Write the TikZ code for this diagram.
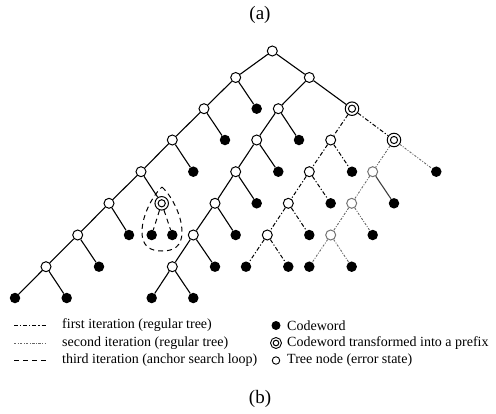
\documentclass[tikz,border=0pt]{standalone}
\usepackage{fontspec}
\setmainfont{Liberation Serif}
\begin{document}
\begin{tikzpicture}[x=1pt,y=-1pt,
  opennode/.style={circle,draw,fill=white,line width=1pt,minimum size=10pt,inner sep=0pt},
  greyopen/.style={opennode,draw=black!55},
  cw/.style={circle,fill=black,minimum size=10.5pt,inner sep=0pt},
  innerring/.style={path picture={\draw[line width=1pt] (path picture bounding box.center) circle (#1);}},
  prefixnode/.style={circle,draw,fill=white,line width=1pt,minimum size=13.5pt,inner sep=0pt,innerring=3.6pt},
  treeline/.style={line width=1.1pt},
  iterone/.style={line width=1pt,dash pattern=on 4pt off 2pt on 1.2pt off 2pt},
  itertwo/.style={line width=0.9pt,black!60,dash pattern=on 2.2pt off 1.5pt on 0.9pt off 1.5pt},
  iterthree/.style={line width=1pt,dash pattern=on 5pt off 4pt},
  legtext/.style={anchor=west,inner sep=0pt,font=\fontsize{14}{16}\selectfont},
  captext/.style={inner sep=0pt,font=\fontsize{19}{22}\selectfont}]
\useasboundingbox (0,0) rectangle (496,413);

% ---- left branch of the root ----
\node[opennode] (r)  at (272.3,51) {};
\node[opennode] (a1) at (235.7,77.5) {};
\node[opennode] (a2) at (204,108.7) {};
\node[opennode] (a3) at (172.3,140) {};
\node[opennode] (a4) at (141,171.7) {};
\node[opennode] (a5) at (109,203.3) {};
\node[opennode] (a6) at (77.7,235) {};
\node[opennode] (a7) at (46,266.7) {};
\node[cw] (a8l) at (15,298) {};
\node[cw] (a8r) at (66.7,298) {};
\node[cw] (a7r) at (99,266.7) {};
\node[cw] (a6r) at (129,235) {};
\node[prefixnode] (a5r) at (161.7,203.3) {};
\node[cw] (t1) at (151.7,235) {};
\node[cw] (t2) at (172.3,235) {};
\node[cw] (a3r) at (193.3,171.7) {};
\node[cw] (a2r) at (225,140) {};
\node[cw] (a1r) at (256.7,108.7) {};

% ---- right branch of the root ----
\node[opennode] (b1) at (309.3,77.5) {};
\node[opennode] (c2) at (278.3,108.7) {};
\node[prefixnode] (d2) at (352,108.7) {};
\node[opennode] (c3) at (256.7,140) {};
\node[cw] (c2r) at (299,140) {};
\node[opennode] (c4) at (235.7,171.7) {};
\node[cw] (c3r) at (278.3,171.7) {};
\node[opennode] (c5) at (215,203.3) {};
\node[cw] (c4r) at (256.7,203.3) {};
\node[opennode] (c6) at (193.3,235) {};
\node[cw] (c5r) at (235.7,235) {};
\node[opennode] (c7) at (172.3,266.7) {};
\node[cw] (c6r) at (215,266.7) {};
\node[cw] (c8l) at (151.7,298) {};
\node[cw] (c8r) at (193.3,298) {};

% ---- first iteration ----
\node[opennode] (e3) at (330.7,140) {};
\node[prefixnode] (d3) at (394,140) {};
\node[opennode] (e4) at (309.3,171.7) {};
\node[cw] (e3r) at (352,171.7) {};
\node[opennode] (e5) at (288.3,203.3) {};
\node[cw] (e4r) at (330.7,203.3) {};
\node[opennode] (e6) at (267.3,235) {};
\node[cw] (e5r) at (309.3,235) {};
\node[cw] (e7l) at (246,266.7) {};
\node[cw] (e7r) at (288.3,266.7) {};

% ---- second iteration ----
\node[greyopen] (f4) at (372.7,171.7) {};
\node[cw] (d3r) at (436.3,171.7) {};
\node[greyopen] (f5) at (351.7,203.3) {};
\node[cw] (f4r) at (394,203.3) {};
\node[greyopen] (f6) at (330.7,235) {};
\node[cw] (f5r) at (372.7,235) {};
\node[cw] (f7l) at (309.3,266.7) {};
\node[cw] (f7r) at (351.7,266.7) {};

% regular tree edges
\draw[treeline] (r) -- (a1) (a1) -- (a2) (a2) -- (a3) (a3) -- (a4) (a4) -- (a5) (a5) -- (a6) (a6) -- (a7)
  (a7) -- (a8l) (a7) -- (a8r) (a6) -- (a7r) (a5) -- (a6r) (a4) -- (a5r) (a3) -- (a3r) (a2) -- (a2r) (a1) -- (a1r)
  (r) -- (b1) (b1) -- (c2) (b1) -- (d2) (c2) -- (c3) (c2) -- (c2r) (c3) -- (c4) (c3) -- (c3r)
  (c4) -- (c5) (c4) -- (c4r) (c5) -- (c6) (c5) -- (c5r) (c6) -- (c7) (c6) -- (c6r) (c7) -- (c8l) (c7) -- (c8r);
\draw[treeline,black!75] (f4) -- (f4r);
% first iteration edges
\draw[iterone] (d2) -- (e3) (d2) -- (d3) (e3) -- (e4) (e3) -- (e3r) (e4) -- (e5) (e4) -- (e4r)
  (e5) -- (e6) (e5) -- (e5r) (e6) -- (e7l) (e6) -- (e7r);
% second iteration edges
\draw[itertwo] (d3) -- (f4) (d3) -- (d3r) (f4) -- (f5) (f5) -- (f6) (f5) -- (f5r) (f6) -- (f7l) (f6) -- (f7r);
% third iteration: anchor search loop
\draw[iterthree] (a5r) -- (t1) (a5r) -- (t2);
\draw[iterthree] (162,187) .. controls (170,194) and (182,214) .. (182,232)
  .. controls (182,247) and (173,251) .. (162,251)
  .. controls (151,251) and (142,247) .. (142,232)
  .. controls (142,214) and (154,194) .. (162,187);

% captions
\node[captext] (capa) at (260,15) {(a)};
\node[captext] (capb) at (260,399) {(b)};

% legend
\coordinate (l1a) at (14,325.5); \coordinate (l1b) at (46,325.5);
\coordinate (l2a) at (14,343); \coordinate (l2b) at (46,343);
\coordinate (l3a) at (14,360.5); \coordinate (l3b) at (46,360.5);
\draw[iterone] (l1a) -- (l1b);
\draw[itertwo] (l2a) -- (l2b);
\draw[iterthree] (l3a) -- (l3b);
\node[legtext] (t1a) at (62,325.5) {first iteration (regular tree)};
\node[legtext] (t2a) at (62,343) {second iteration (regular tree)};
\node[legtext] (t3a) at (62,360.5) {third iteration (anchor search loop)};
\node[cw,minimum size=9pt] (s1) at (276,325.5) {};
\node[circle,draw,fill=white,line width=0.9pt,minimum size=11pt,inner sep=0pt,innerring=2.8pt] (s2) at (276,343) {};
\node[opennode,minimum size=7.5pt,line width=0.9pt] (s3) at (276,360.5) {};
\node[legtext] (t1b) at (287,325.5) {Codeword};
\node[legtext] (t2b) at (287,343) {Codeword transformed into a prefix};
\node[legtext] (t3b) at (287,360.5) {Tree node (error state)};
\end{tikzpicture}
\end{document}
